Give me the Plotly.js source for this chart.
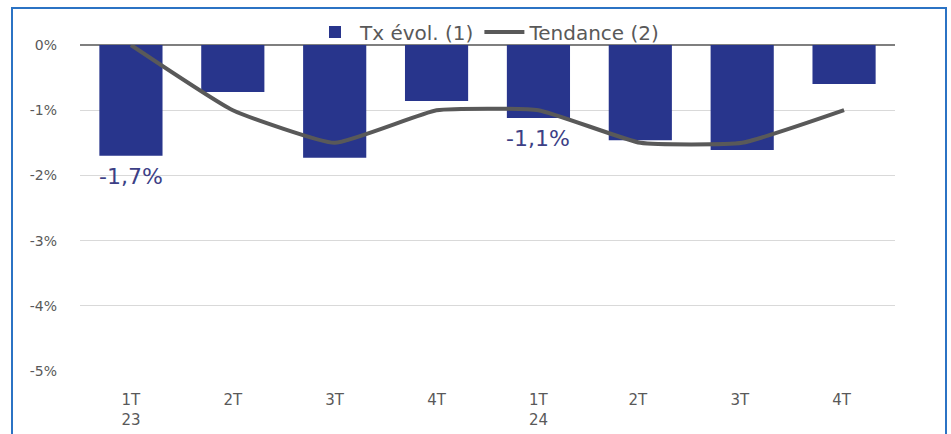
<!DOCTYPE html>
<html>
<head>
<meta charset="utf-8">
<script src="https://cdn.plot.ly/plotly-3.0.1.min.js"></script>
<style>
html,body{margin:0;padding:0;background:#fff;}
#wrap{position:relative;width:951px;height:434px;overflow:hidden;}
#chart{position:absolute;left:0;top:0;width:951px;height:434px;}
#frame{position:absolute;left:11px;top:7px;width:932px;height:440px;border:2px solid #2b73c4;pointer-events:none;}
</style>
</head>
<body>
<div id="wrap"><div id="chart"></div><div id="frame"></div></div>
<script>
const categories = ["1T<br>23","2T","3T","4T","1T<br>24","2T ","3T ","4T "];
const txEvol = [-1.70, -0.72, -1.73, -0.86, -1.12, -1.46, -1.61, -0.60];
const tendance = [0, -1.0, -1.5, -1.0, -1.0, -1.5, -1.5, -1.0];
const labels = ["-1,7%", "", "", "", "-1,1%", "", "", ""];
const yTicks = [0, -1, -2, -3, -4, -5];
const yTickText = ["0%", "-1%", "-2%", "-3%", "-4%", "-5%"];

const annotations = [];
labels.forEach((t, i) => {
  if (t) annotations.push({x: categories[i], y: txEvol[i], text: t, showarrow: false,
    yanchor: "top", yshift: -6, font: {family: "DejaVu Sans", size: 22, color: "#3d3f86"}});
});

const data = [
  {type: "bar", x: categories, y: txEvol, name: "Tx évol. (1)",
   marker: {color: "#28358c"}, width: 0.62},
  {type: "scatter", mode: "lines", x: categories, y: tendance, name: "Tendance (2)",
   line: {color: "#595959", width: 4, shape: "spline", smoothing: 0.4}}
];

const layout = {
  width: 951, height: 434,
  margin: {l: 80, r: 56, t: 45, b: 63, autoexpand: false},
  paper_bgcolor: "#fff", plot_bgcolor: "#fff",
  font: {family: "DejaVu Sans", size: 13, color: "#595959"},
  showlegend: true,
  legend: {orientation: "h", x: 0.5, xanchor: "center", y: 1.04, yanchor: "middle",
    font: {family: "DejaVu Sans", size: 20, color: "#595959"}, itemwidth: 40, bgcolor: "rgba(0,0,0,0)"},
  xaxis: {type: "category", showgrid: false, zeroline: false, showline: false,
    ticks: "", tickfont: {size: 15, color: "#595959"}, ticklabelstandoff: 18},
  yaxis: {range: [-5, 0], tickvals: yTicks, ticktext: yTickText, showgrid: true,
    gridcolor: "#d9d9d9", gridwidth: 1, zeroline: true, zerolinecolor: "#7f7f7f", zerolinewidth: 1.5,
    tickfont: {size: 14, color: "#595959"}, ticks: "", ticklabelstandoff: 22},
  bargap: 0.38,
  annotations: annotations
};

Plotly.newPlot("chart", data, layout, {displayModeBar: false, staticPlot: true});
</script>
</body>
</html>
